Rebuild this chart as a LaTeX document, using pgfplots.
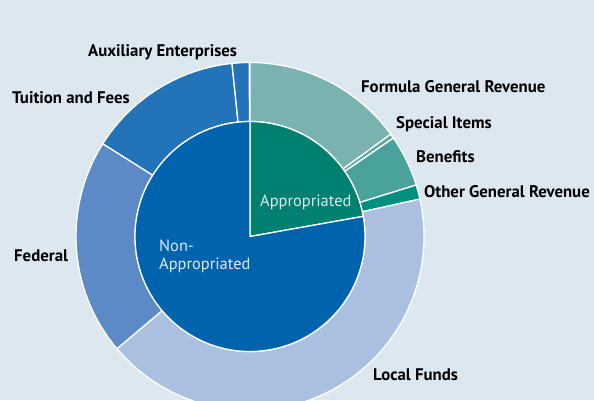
\documentclass[border=0pt]{standalone}
\usepackage{pgfplots}
\usepackage{pgfplotstable}
\pgfplotsset{compat=1.18}
\usepackage{fontspec}
\setmainfont{PT Sans}

\definecolor{bg}{RGB}{221,231,240}
\definecolor{nonapp}{RGB}{0,99,173}
\definecolor{app}{RGB}{0,128,110}
\definecolor{fgr}{RGB}{122,178,176}
\definecolor{spec}{RGB}{90,168,160}
\definecolor{bene}{RGB}{74,163,154}
\definecolor{ogr}{RGB}{0,144,128}
\definecolor{local}{RGB}{170,192,224}
\definecolor{fed}{RGB}{91,138,198}
\definecolor{tuit}{RGB}{35,115,184}
\definecolor{aux}{RGB}{35,115,184}
\definecolor{inlabel}{RGB}{222,232,242}

% outer ring, clockwise from 12 o'clock (percent)
\pgfplotstableread{
value col
15.00 fgr
0.42  spec
4.80  bene
1.33  ogr
42.30 local
20.10 fed
14.40 tuit
1.58  aux
}\outerdata

% inner pie, clockwise from 12 o'clock (percent)
\pgfplotstableread{
value col
22.20 app
77.80 nonapp
}\innerdata

\newcommand\ring[3]{% table, inner radius, outer radius
  \pgfplotstablegetrowsof{#1}%
  \pgfmathtruncatemacro\N{\pgfplotsretval-1}%
  \def\acc{90}%
  \pgfplotsforeachungrouped \i in {0,...,\N}{%
    \pgfplotstablegetelem{\i}{value}\of#1\let\v\pgfplotsretval
    \pgfplotstablegetelem{\i}{col}\of#1\let\c\pgfplotsretval
    \pgfmathsetmacro\aend{\acc-3.6*\v}%
    \ifdim#2pt>0pt
      \fill[\c, draw=white, line width=1.3pt]
        (axis cs:{#3*cos(\acc)},{#3*sin(\acc)})
        arc[start angle=\acc, end angle=\aend, radius=#3pt]
        -- (axis cs:{#2*cos(\aend)},{#2*sin(\aend)})
        arc[start angle=\aend, end angle=\acc, radius=#2pt] -- cycle;
    \else
      \fill[\c, draw=white, line width=1.3pt]
        (axis cs:0,0) -- (axis cs:{#3*cos(\acc)},{#3*sin(\acc)})
        arc[start angle=\acc, end angle=\aend, radius=#3pt] -- cycle;
    \fi
    \global\let\acc\aend
  }%
}

\tikzset{
  lab/.style={font=\bfseries\fontsize{16.8}{19}\selectfont, text=black, inner sep=0pt, anchor=west},
  inlab/.style={font=\fontsize{16.4}{17.5}\selectfont, text=inlabel, inner sep=0pt, align=left},
}

\begin{document}
\begin{tikzpicture}
\begin{axis}[
  x=1pt, y=1pt,
  disabledatascaling,
  xmin=-250, xmax=344,
  ymin=-163.5, ymax=236.5,
  hide axis,
  clip=true,
]
\addplot[draw=none] coordinates {(-250,-163.5) (344,236.5)};
\pgfplotsextra{
  \fill[bg] (axis cs:-250,-163.5) rectangle (axis cs:344,236.5);
  \ring{\outerdata}{115}{174}
  \ring{\innerdata}{0}{115}
}
\node[lab] at (axis cs:-162,184.5) {Auxiliary Enterprises};
\node[lab] at (axis cs:-238,138.5) {Tuition and Fees};
\node[lab] at (axis cs:-236,-19.5) {Federal};
\node[lab] at (axis cs:111,149.5) {Formula General Revenue};
\node[lab] at (axis cs:146,112.5) {Special Items};
\node[lab] at (axis cs:166,79.5) {Benefits};
\node[lab] at (axis cs:174,44.5) {Other General Revenue};
\node[lab] at (axis cs:123,-138.5) {Local Funds};
\node[inlab, anchor=base west] at (axis cs:10,30.5) {Appropriated};
\node[inlab, anchor=base west] at (axis cs:-91,-32.5) {Non-\\Appropriated};
\end{axis}
\pgfresetboundingbox
\useasboundingbox (current axis.south west) rectangle (current axis.north east);
\end{tikzpicture}
\end{document}
